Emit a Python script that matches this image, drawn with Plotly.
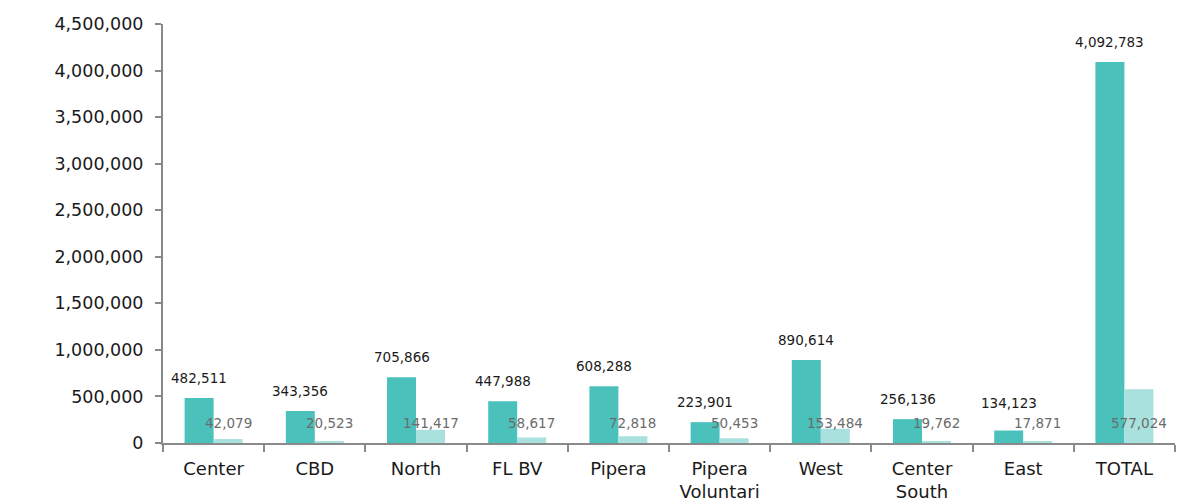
import plotly.graph_objects as go

categories = ["Center", "CBD", "North", "FL BV", "Pipera", "Pipera<br>Voluntari",
              "West", "Center<br>South", "East", "TOTAL"]
series_a = [482511, 343356, 705866, 447988, 608288, 223901, 890614, 256136, 134123, 4092783]
series_b = [42079, 20523, 141417, 58617, 72818, 50453, 153484, 19762, 17871, 577024]
y_ticks = [0, 500000, 1000000, 1500000, 2000000, 2500000, 3000000, 3500000, 4000000, 4500000]

DARK = "#4BC1BB"
LIGHT = "#A8E1DE"
FONT = "DejaVu Sans"

Y_MAX = 4500000
PLOT_H = 504 - 24 - 61

fig = go.Figure()
fig.add_bar(x=categories, y=series_a, marker=dict(color=DARK, line=dict(width=0)), name="A")
fig.add_bar(x=categories, y=series_b, marker=dict(color=LIGHT, line=dict(width=0)), name="B")

annotations = []
for c, a, b in zip(categories, series_a, series_b):
    px = a / Y_MAX * PLOT_H
    shift = max(20, 40 - px)
    annotations.append(dict(x=c, y=a, xref="x", yref="y", text=f"{a:,}", showarrow=False,
                            xshift=-14.5, yshift=shift, yanchor="middle",
                            font=dict(family=FONT, size=13.5, color="#1a1a1a")))
    annotations.append(dict(x=c, y=0, xref="x", yref="y", text=f"{b:,}", showarrow=False,
                            xshift=14.5, yshift=20, yanchor="middle",
                            font=dict(family=FONT, size=13.5, color="#6b6b6b")))

fig.update_layout(
    width=1198, height=504,
    margin=dict(l=163, r=23, t=24, b=61),
    paper_bgcolor="white", plot_bgcolor="white",
    barmode="group", bargap=0.427, bargroupgap=0,
    showlegend=False,
    annotations=annotations,
    font=dict(family=FONT, color="#1a1a1a"),
)
fig.update_xaxes(
    automargin=False,
    showline=True, linecolor="#8a8a8a", linewidth=2,
    ticks="outside", tickson="boundaries", ticklen=7, tickcolor="#8a8a8a", tickwidth=2,
    tickfont=dict(family=FONT, size=18, color="#1a1a1a"),
    ticklabelstandoff=8,
    showgrid=False,
)
fig.update_yaxes(
    automargin=False,
    range=[0, Y_MAX], tickvals=y_ticks, ticktext=[f"{v:,}" for v in y_ticks],
    showline=True, linecolor="#8a8a8a", linewidth=2,
    ticks="outside", ticklen=6, tickcolor="#8a8a8a", tickwidth=2,
    tickfont=dict(family=FONT, size=17.5, color="#1a1a1a"),
    ticklabelstandoff=8,
    showgrid=False, zeroline=False,
)

fig.write_html("out.html")
